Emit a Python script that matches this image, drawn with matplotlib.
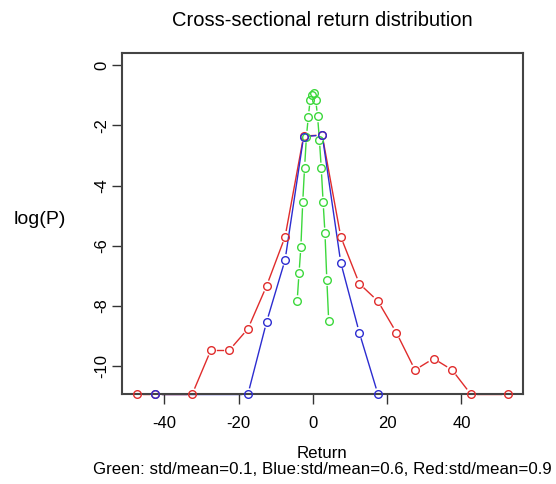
import numpy as np
import matplotlib
matplotlib.use("Agg")
import matplotlib.pyplot as plt

plt.rcParams['font.family'] = ['Liberation Sans', 'DejaVu Sans']

# values (bottom points sit on the lower axis limit)
FLOOR = -10.93

red_x = [-47.5, -42.5, -32.5, -27.5, -22.5, -17.5, -12.5, -7.5, -2.5, 2.5,
         7.5, 12.5, 17.5, 22.5, 27.5, 32.5, 37.5, 42.5, 52.5]
red_y = [FLOOR, FLOOR, FLOOR, -9.47, -9.47, -8.76, -7.34, -5.70, -2.35, -2.32,
         -5.70, -7.26, -7.84, -8.89, -10.13, -9.75, -10.13, FLOOR, FLOOR]

blue_x = [-42.5, -17.5, -12.5, -7.5, -2.5, 2.5, 7.5, 12.5, 17.5]
blue_y = [FLOOR, FLOOR, -8.54, -6.47, -2.37, -2.32, -6.56, -8.89, FLOOR]

green_x = [-4.25, -3.75, -3.25, -2.75, -2.25, -1.75, -1.25, -0.75, -0.25,
           0.25, 0.75, 1.25, 1.75, 2.25, 2.75, 3.25, 3.75, 4.25]
green_y = [-7.84, -6.92, -6.05, -4.56, -3.40, -2.37, -1.72, -1.15, -0.98,
           -0.93, -1.15, -1.70, -2.48, -3.43, -4.56, -5.59, -7.14, -8.50]

x_ticks = [-40, -20, 0, 20, 40]
y_ticks = [0, -2, -4, -6, -8, -10]

W, H = 556, 484


def plot_b(ax, x, y, color, gap=6.5):
    # R style type="b": lines broken around each point
    pts = ax.transData.transform(np.column_stack([x, y]))
    inv = ax.transData.inverted()
    for p0, p1 in zip(pts[:-1], pts[1:]):
        d = np.hypot(*(p1 - p0))
        if d <= 2 * gap:
            continue
        u = (p1 - p0) / d
        seg = inv.transform(np.array([p0 + u * gap, p1 - u * gap]))
        ax.plot(seg[:, 0], seg[:, 1], color=color, lw=1.0, clip_on=False, zorder=1)
    ax.plot(x, y, 'o', mfc='none', mec=color, ms=5.5, mew=1.0, clip_on=False, zorder=3)


def main():
    fig = plt.figure(figsize=(W / 100, H / 100), dpi=100)
    ax = fig.add_axes([122 / W, 1 - 394 / H, (523 - 122) / W, (394 - 53) / H])
    ax.set_xlim(-51.44, 56.6)
    ax.set_ylim(FLOOR, 0.41)

    plot_b(ax, red_x, red_y, '#e02c2c')
    plot_b(ax, green_x, green_y, '#3cd83c')
    plot_b(ax, blue_x, blue_y, '#2c2cd0')

    for s in ax.spines.values():
        s.set_color('#444444')
        s.set_linewidth(1.5)
        s.set_zorder(2)

    ax.set_xticks(x_ticks)
    ax.set_xticklabels([str(t) for t in x_ticks])
    ax.set_yticks(y_ticks)
    ax.set_yticklabels([str(t) for t in y_ticks], rotation=90, va='center')
    ax.tick_params(axis='both', direction='out', length=7, width=1.0,
                   color='#333333', labelsize=12)
    ax.tick_params(axis='x', pad=9)
    ax.tick_params(axis='y', pad=2)

    fig.text(322 / W, 1 - 21 / H, 'Cross-sectional return distribution',
             ha='center', va='center', fontsize=14.5)
    fig.text(40 / W, 1 - 219 / H, 'log(P)', ha='center', va='center', fontsize=14)
    fig.text(322 / W, 1 - 454 / H, 'Return', ha='center', va='center', fontsize=12.2)
    fig.text(322 / W, 1 - 469 / H,
             'Green: std/mean=0.1, Blue:std/mean=0.6, Red:std/mean=0.9',
             ha='center', va='center', fontsize=12.2)

    fig.savefig('out.png', dpi=100)


if __name__ == "__main__":
    main()
